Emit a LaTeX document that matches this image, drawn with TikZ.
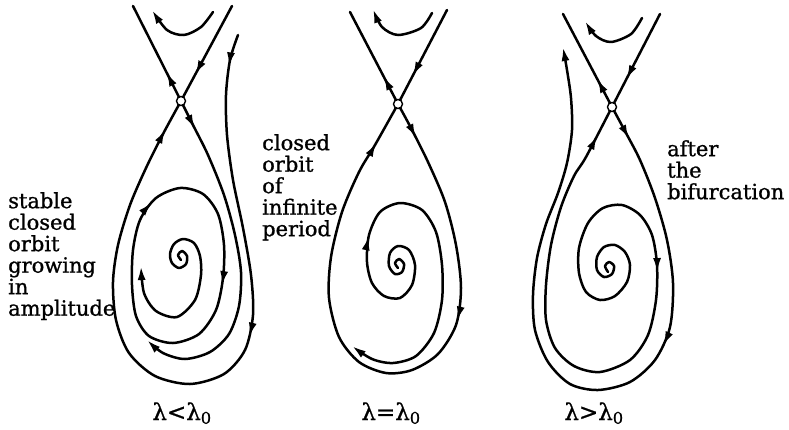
\documentclass[tikz,border=0pt]{standalone}
\usepackage{fontspec}
\setmainfont{DejaVu Serif}[FakeBold=1]
\usetikzlibrary{arrows.meta,decorations.markings}

\newcommand\tightlines{\lineskiplimit=-30pt\relax}

\tikzset{
  traj/.style={line width=2.5pt, line cap=round, line join=round},
  fwd/.style={postaction={decorate,decoration={markings,
      mark=at position #1 with {\arrow{Latex[length=14pt,width=8pt]}}}}},
  endtip/.style={-{Latex[length=14pt,width=8pt]}},
  saddle/.style={circle, draw, fill=white, line width=1.4pt, minimum size=9pt, inner sep=0pt},
  note/.style={font={\fontsize{21}{21.5}\selectfont\tightlines},
      align=left, inner sep=0pt, anchor=north west},
  cond/.style={font={\fontsize{23}{23}\selectfont}, inner sep=0pt, anchor=base},
}

\begin{document}
\begin{tikzpicture}[x=1pt,y=-1pt]
\useasboundingbox (0,0) rectangle (789,429);

% lambda < lambda_0
\coordinate (s1) at (181,101);
\coordinate (a1) at (133,6);
\coordinate (b1) at (232,6);
\draw[traj, fwd=0.3] (s1) -- (a1);
\draw[traj, fwd=0.72] (b1) -- (s1);
\draw[traj, endtip] plot[smooth] coordinates {(213,12) (201,27) (184,35) (167,30) (152,10)};
\draw[traj, fwd=0.045, fwd=0.42, fwd=0.955] plot[smooth] coordinates {(238,35) (230,60) (226,95)
  (227,135) (233,180) (243,228) (251,275) (253,315) (245,350) (224,374) (190,384) (155,376)
  (129,353) (116,320) (113,282) (118,245) (130,205) (146,168) (163,134) (s1)};
\draw[traj, fwd=0.09, endtip] plot[smooth] coordinates {(s1) (193,125) (208,155) (224,195)
  (235,235) (241,272) (239,306) (229,334) (210,352) (185,359) (163,353) (147,340)};
\draw[traj, fwd=0.24, fwd=0.86] plot[smooth cycle] coordinates {(180,188) (203,194) (218,214)
  (224,245) (223,278) (216,310) (199,334) (173,343) (149,336) (136,316) (132,285) (133,250)
  (140,220) (156,198)};
\draw[traj, endtip] plot[smooth] coordinates {(181,260) (178,255) (182,251) (187,256) (186,264)
  (179,268) (172,263) (170,254) (174,244) (183,239) (194,243) (200,256) (201,275) (195,300)
  (177,317) (156,311) (144,293) (141,266)};
\node[saddle] (c1) at (s1) {};

% lambda = lambda_0
\coordinate (s2) at (398,104);
\coordinate (a2) at (350,12);
\coordinate (b2) at (447,10);
\draw[traj, fwd=0.3] (s2) -- (a2);
\draw[traj, fwd=0.7] (b2) -- (s2);
\draw[traj, endtip] plot[smooth] coordinates {(432,13) (421,28) (398,35) (382,27) (373,9)};
\draw[traj, fwd=0.06, fwd=0.36, fwd=0.93] plot[smooth] coordinates {(s2) (411,128) (428,162)
  (445,202) (456,245) (461,288) (456,325) (438,354) (412,370) (386,373) (359,362) (339,337)
  (329,298) (331,257) (342,212) (359,172) (375,145) (s2)};
\draw[traj, fwd=0.42, endtip] plot[smooth] coordinates {(398,268) (395,263) (399,259) (404,264)
  (402,272) (395,274) (389,266) (390,253) (398,246) (409,250) (415,265) (412,285) (400,298)
  (384,296) (372,283) (367,262) (369,235) (380,212) (400,203) (422,210) (436,232) (442,265)
  (442,300) (434,333) (416,356) (393,363) (372,359) (352,346)};
\node[saddle] (c2) at (s2) {};

% lambda > lambda_0
\coordinate (s3) at (612,107);
\coordinate (a3) at (563,14);
\coordinate (b3) at (660,14);
\draw[traj, fwd=0.3] (s3) -- (a3);
\draw[traj, fwd=0.7] (b3) -- (s3);
\draw[traj, endtip] plot[smooth] coordinates {(642,18) (631,34) (611,42) (596,36) (585,21)};
\draw[traj, fwd=0.05, fwd=0.35, endtip] plot[smooth] coordinates {(s3) (626,133) (640,160)
  (655,198) (667,240) (673,283) (670,327) (655,360) (630,382) (598,390) (570,384) (548,362)
  (535,330) (533,295) (537,258) (546,224) (558,193) (567,163) (572,130) (571,98) (567,70)
  (563,47)};
\draw[traj, fwd=0.46, fwd=0.96] plot[smooth] coordinates {(608,272) (605,266) (609,262) (614,266)
  (612,274) (604,277) (597,270) (597,257) (604,247) (615,245) (625,252) (630,265) (627,282)
  (615,296) (600,300) (586,292) (579,273) (579,248) (588,223) (603,208) (622,205) (640,215)
  (652,235) (657,265) (656,300) (648,335) (630,360) (600,372) (574,366) (555,348) (546,320)
  (546,285) (551,245) (561,207) (574,176) (586,157) (s3)};
\node[saddle] (c3) at (s3) {};

\node[note] (txt1) at (8,192) {stable\\closed\\orbit\\growing\\in\\amplitude};
\node[note] (txt2) at (262,134) {closed\\orbit\\of\\infinite\\period};
\node[note] (txt3) at (667,140) {after\\the\\bifurcation};

\node[cond] (lam1) at (182,420) {λ<λ\textsubscript{0}};
\node[cond] (lam2) at (391,420) {λ=λ\textsubscript{0}};
\node[cond] (lam3) at (594,420) {λ>λ\textsubscript{0}};
\end{tikzpicture}
\end{document}
